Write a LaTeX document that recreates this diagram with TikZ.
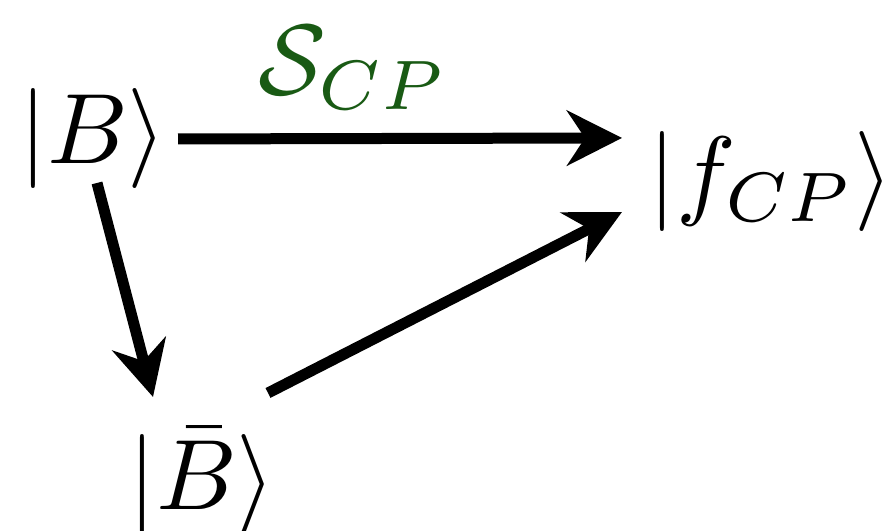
\documentclass[tikz,border=0pt]{standalone}
\usetikzlibrary{arrows.meta,calc}
\definecolor{labgreen}{RGB}{25,90,20}
\begin{document}
\begin{tikzpicture}[x=0.1pt,y=-0.1pt,
  state/.style={inner sep=0pt,font=\normalsize},
  arr/.style={line width=1.1pt,-{Stealth[length=5.5pt,width=5.5pt,inset=1.8pt]}}]
\useasboundingbox (0,0) rectangle (886,531);
\node[state] (B) at (93,139) {$|B\rangle$};
\node[state] (F) at (771,182) {$|f_{CP}\rangle$};
\node[state] (Bb) at (202,481) {$|\bar{B}\rangle$};
\node[state,text=labgreen] (S) at (353,68) {$\mathcal{S}_{CP}$};
\draw[arr] ($(B)+(85,0)$) -- ($(F)+(-149,-44)$);
\draw[arr] ($(B)+(4,44)$) -- ($(Bb)+(-49,-84)$);
\draw[arr] ($(Bb)+(66,-88)$) -- ($(F)+(-149,30)$);
\end{tikzpicture}
\end{document}
